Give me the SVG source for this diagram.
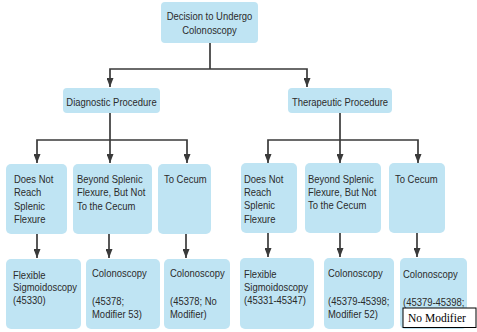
<svg xmlns="http://www.w3.org/2000/svg" width="477" height="332" viewBox="0 0 477 332">
<style>
.box{fill:#bfe4f3}
.t{font-family:"Liberation Sans",Arial,sans-serif;font-size:11px;fill:#2b2b2b}
.c{text-anchor:middle}
.conn path{fill:none;stroke:#3a3a3a;stroke-width:1.7}
.note rect{fill:#fff;stroke:#000;stroke-width:1}
.note text{font-family:"Liberation Serif","Times New Roman",serif;font-size:11.5px;fill:#000}
</style>
<defs>
<marker id="ah" markerUnits="userSpaceOnUse" markerWidth="9" markerHeight="7" viewBox="0 0 9 7" refX="9" refY="3.5" orient="auto">
<path d="M0,0 L9,3.5 L0,7 z" fill="#3a3a3a"/>
</marker>
</defs>
<rect width="477" height="332" fill="#fff"/>
<g class="conn">
<path d="M210,43 V69"/>
<path d="M210,69 H110 V87" marker-end="url(#ah)"/>
<path d="M210,69 H307 V87" marker-end="url(#ah)"/>
<path d="M110,113 V140"/>
<path d="M110,140 H37 V163" marker-end="url(#ah)"/>
<path d="M110,140 V163" marker-end="url(#ah)"/>
<path d="M110,140 H187 V163" marker-end="url(#ah)"/>
<path d="M340,113 V140"/>
<path d="M340,140 H268 V163" marker-end="url(#ah)"/>
<path d="M340,140 V163" marker-end="url(#ah)"/>
<path d="M340,140 H418 V163" marker-end="url(#ah)"/>
<path d="M37,234 V258" marker-end="url(#ah)"/>
<path d="M109,234 V258" marker-end="url(#ah)"/>
<path d="M186,234 V258" marker-end="url(#ah)"/>
<path d="M268,233 V257" marker-end="url(#ah)"/>
<path d="M340,233 V257" marker-end="url(#ah)"/>
<path d="M417,233 V257" marker-end="url(#ah)"/>
</g>
<g id="decision">
<rect class="box" x="161" y="2" width="97" height="41" rx="4"/>
<text class="t c" transform="translate(209.5,20) scale(0.86,1)"><tspan x="0">Decision to Undergo</tspan><tspan x="0" dy="14">Colonoscopy</tspan></text>
</g>
<g id="diagnostic">
<rect class="box" x="63" y="88" width="97" height="25" rx="4"/>
<text class="t c" transform="translate(111.5,105.5) scale(0.86,1)">Diagnostic Procedure</text>
</g>
<g id="therapeutic">
<rect class="box" x="288" y="88" width="104" height="25" rx="4"/>
<text class="t c" transform="translate(340,105.5) scale(0.86,1)">Therapeutic Procedure</text>
</g>
<g id="d-notreach">
<rect class="box" x="6" y="164" width="61" height="70" rx="5"/>
<text class="t" transform="translate(14,183) scale(0.86,1)"><tspan x="0">Does Not</tspan><tspan x="0" dy="13.5">Reach</tspan><tspan x="0" dy="13.5">Splenic</tspan><tspan x="0" dy="13.5">Flexure</tspan></text>
</g>
<g id="d-beyond">
<rect class="box" x="73" y="164" width="79" height="70" rx="5"/>
<text class="t" transform="translate(77,183) scale(0.86,1)"><tspan x="0">Beyond Splenic</tspan><tspan x="0" dy="13.5">Flexure, But Not</tspan><tspan x="0" dy="13.5">To the Cecum</tspan></text>
</g>
<g id="d-cecum">
<rect class="box" x="158" y="164" width="53" height="70" rx="5"/>
<text class="t" transform="translate(164,183) scale(0.86,1)">To Cecum</text>
</g>
<g id="t-notreach">
<rect class="box" x="241" y="163" width="56" height="70" rx="5"/>
<text class="t" transform="translate(244,182.5) scale(0.86,1)"><tspan x="0">Does Not</tspan><tspan x="0" dy="13.5">Reach</tspan><tspan x="0" dy="13.5">Splenic</tspan><tspan x="0" dy="13.5">Flexure</tspan></text>
</g>
<g id="t-beyond">
<rect class="box" x="305" y="163" width="76" height="70" rx="5"/>
<text class="t" transform="translate(308,182.5) scale(0.86,1)"><tspan x="0">Beyond Splenic</tspan><tspan x="0" dy="13.5">Flexure, But Not</tspan><tspan x="0" dy="13.5">To the Cecum</tspan></text>
</g>
<g id="t-cecum">
<rect class="box" x="389" y="163" width="56" height="70" rx="5"/>
<text class="t" transform="translate(395,182.5) scale(0.86,1)">To Cecum</text>
</g>
<g id="d-flex">
<rect class="box" x="6" y="259" width="75" height="70" rx="5"/>
<text class="t" transform="translate(13,278.5) scale(0.86,1)"><tspan x="0">Flexible</tspan><tspan x="0" dy="13">Sigmoidoscopy</tspan><tspan x="0" dy="13">(45330)</tspan></text>
</g>
<g id="d-colon53">
<rect class="box" x="86" y="259" width="74" height="70" rx="5"/>
<text class="t" transform="translate(92,277) scale(0.86,1)"><tspan x="0">Colonoscopy</tspan><tspan x="0" dy="28">(45378;</tspan><tspan x="0" dy="13.5">Modifier 53)</tspan></text>
</g>
<g id="d-colon">
<rect class="box" x="164" y="259" width="66" height="70" rx="5"/>
<text class="t" transform="translate(170,277) scale(0.86,1)"><tspan x="0">Colonoscopy</tspan><tspan x="0" dy="28">(45378; No</tspan><tspan x="0" dy="13.5">Modifier)</tspan></text>
</g>
<g id="t-flex">
<rect class="box" x="240" y="258" width="74" height="71" rx="5"/>
<text class="t" transform="translate(244,278) scale(0.86,1)"><tspan x="0">Flexible</tspan><tspan x="0" dy="13">Sigmoidoscopy</tspan><tspan x="0" dy="13">(45331-45347)</tspan></text>
</g>
<g id="t-colon52">
<rect class="box" x="324" y="258" width="70" height="71" rx="5"/>
<text class="t" transform="translate(328,277) scale(0.86,1)"><tspan x="0">Colonoscopy</tspan><tspan x="0" dy="28">(45379-45398;</tspan><tspan x="0" dy="13.5">Modifier 52)</tspan></text>
</g>
<g id="t-colon">
<rect class="box" x="400" y="258" width="67" height="71" rx="5"/>
<text class="t" transform="translate(403,277.5) scale(0.86,1)"><tspan x="0">Colonoscopy</tspan><tspan x="0" dy="28.5">(45379-45398;</tspan></text>
</g>
<g id="note" class="note">
<rect x="403" y="308" width="73" height="19.5"/>
<text x="408" y="322">No Modifier</text>
</g>
</svg>
